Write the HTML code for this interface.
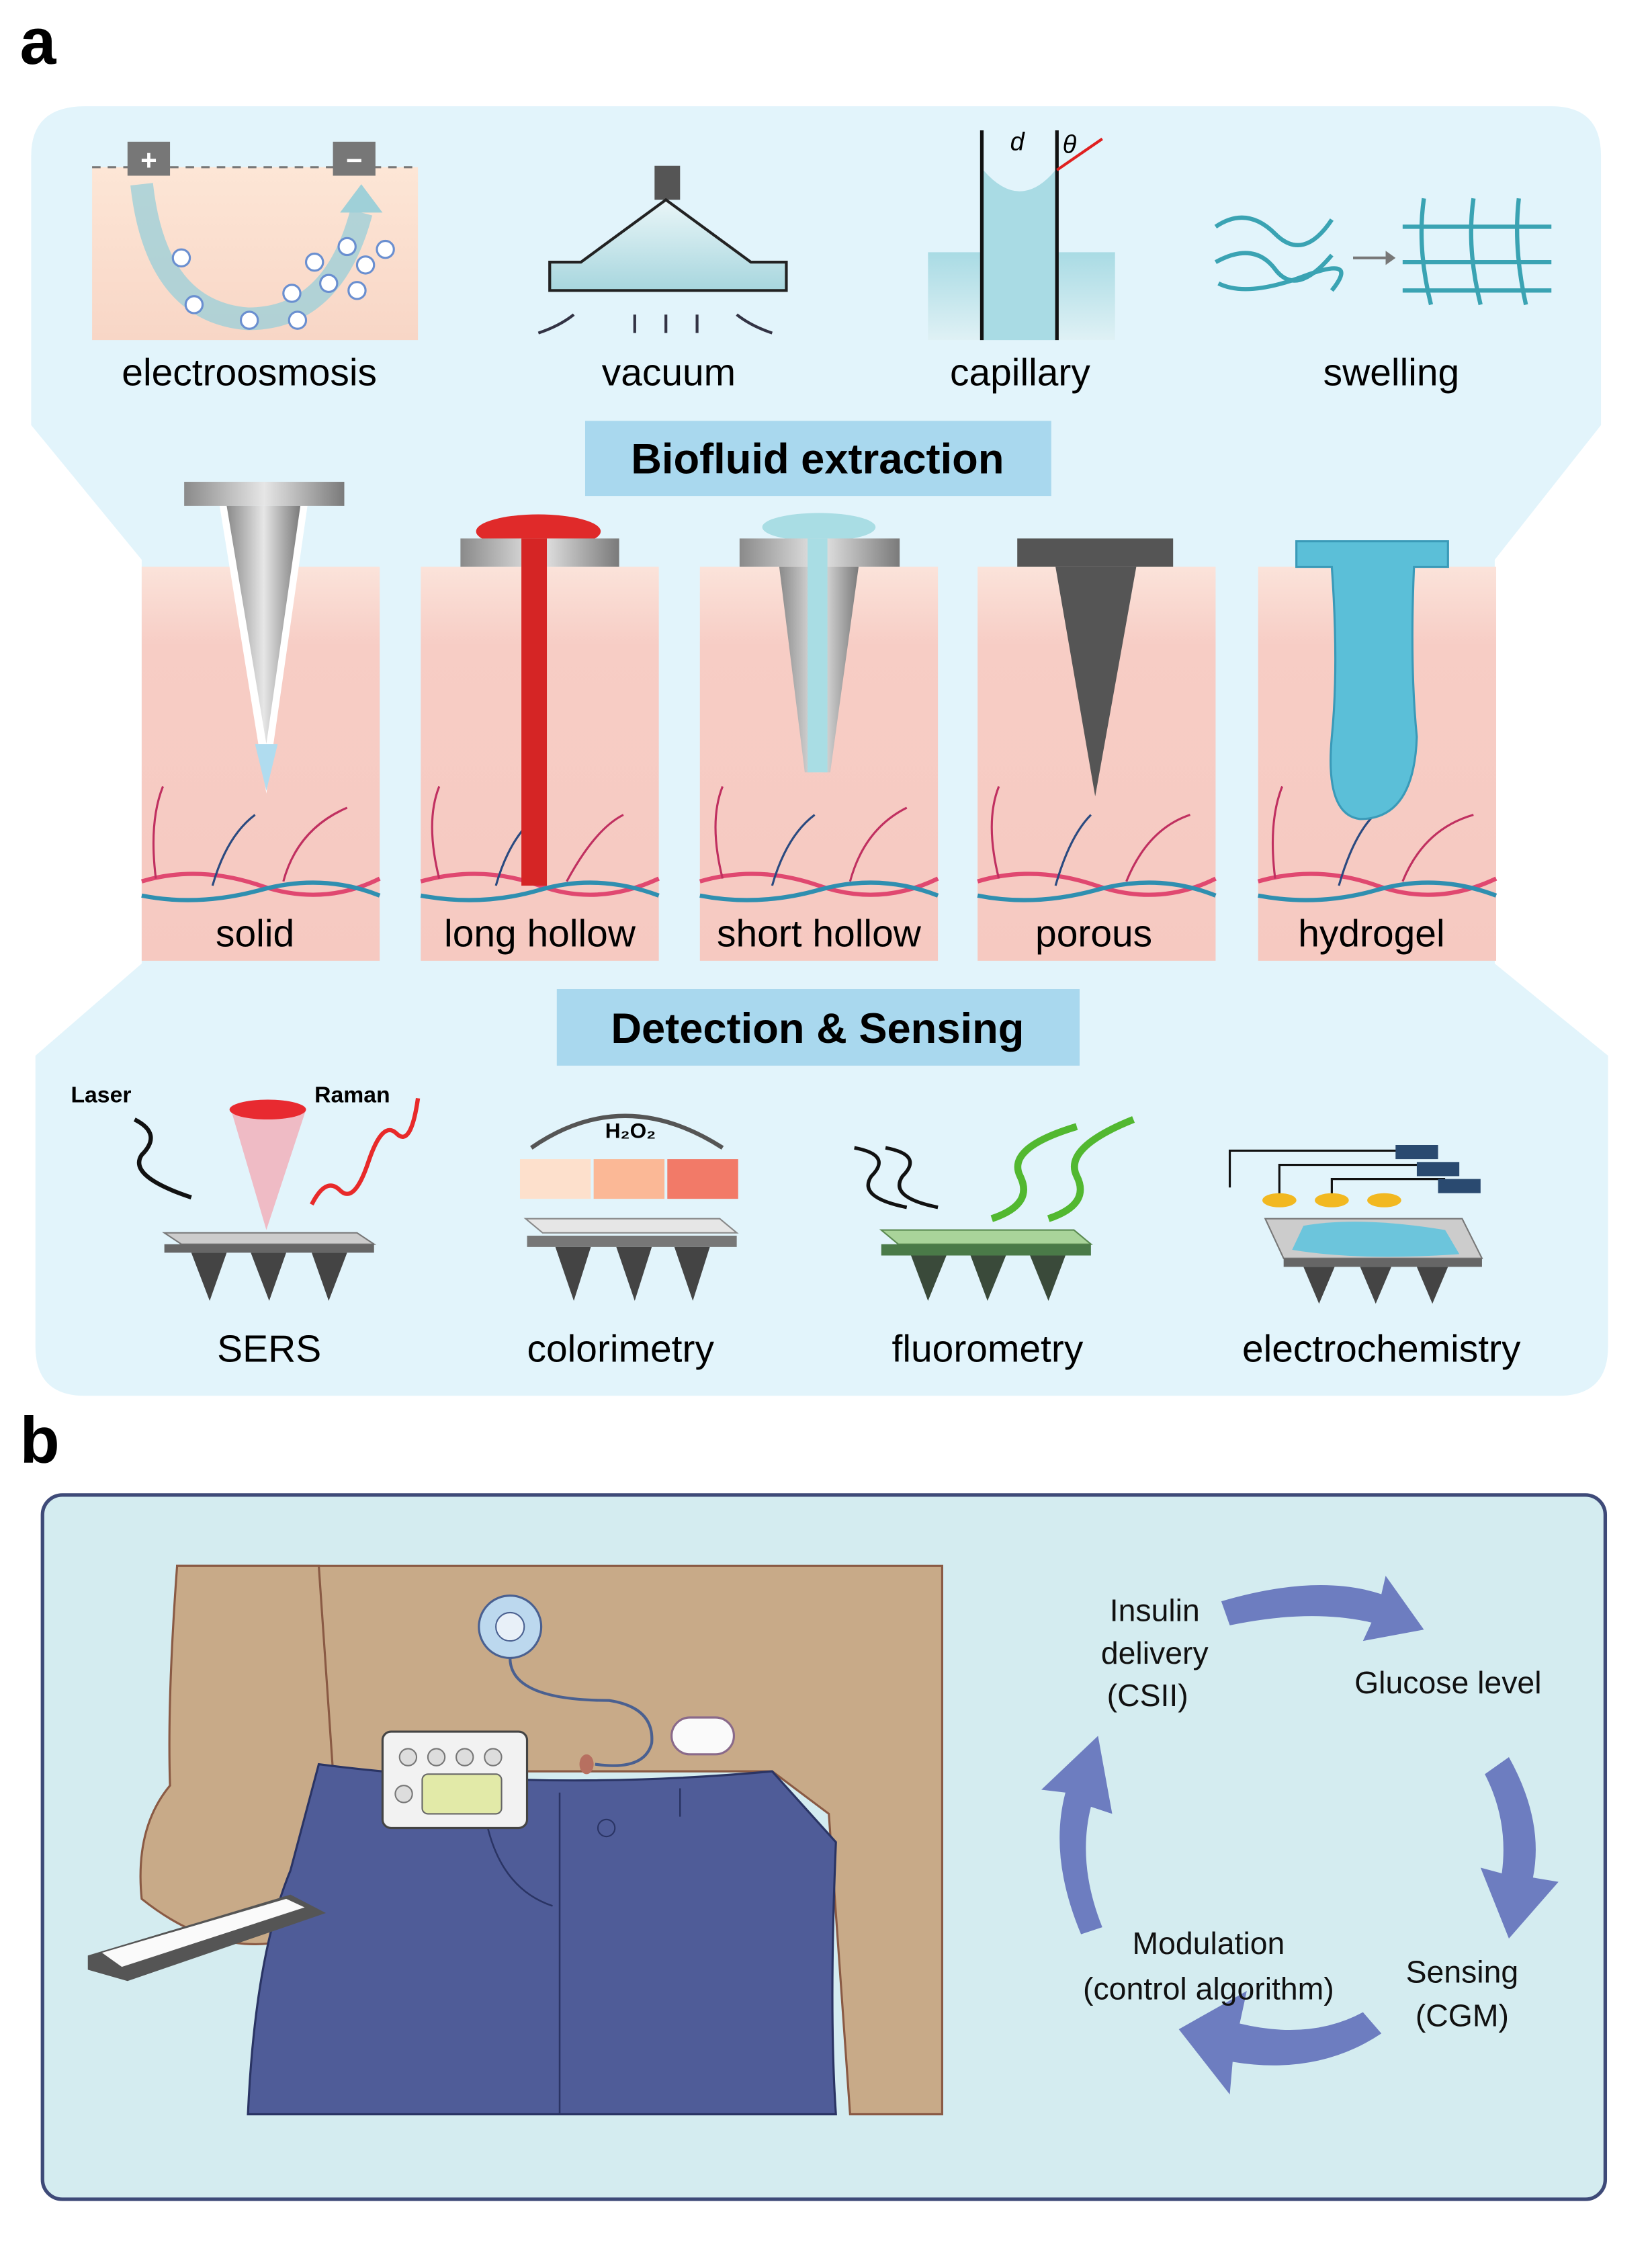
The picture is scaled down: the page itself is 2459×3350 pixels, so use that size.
<!DOCTYPE html>
<html><head><meta charset="utf-8"><style>
html,body{margin:0;padding:0;background:#fff}
svg{display:block}
text{font-family:"Liberation Sans",sans-serif}
</style></head><body>
<svg width="2459" height="3350" viewBox="0 0 1166 1588.5" preserveAspectRatio="none" xmlns="http://www.w3.org/2000/svg">
<defs>
<linearGradient id="skin" x1="0" y1="0" x2="0" y2="1"><stop offset="0" stop-color="#fbe3da"/><stop offset="0.2" stop-color="#f7cdc5"/><stop offset="1" stop-color="#f6c9c1"/></linearGradient>
<linearGradient id="peach" x1="0" y1="0" x2="0" y2="1"><stop offset="0" stop-color="#fde6d6"/><stop offset="1" stop-color="#f8d6c6"/></linearGradient>
<linearGradient id="metal" x1="0" y1="0" x2="1" y2="0"><stop offset="0" stop-color="#8a8a8a"/><stop offset="0.5" stop-color="#e6e6e6"/><stop offset="1" stop-color="#7a7a7a"/></linearGradient>
<linearGradient id="vac" x1="0" y1="0" x2="0" y2="1"><stop offset="0" stop-color="#eaf6f8"/><stop offset="1" stop-color="#a7d6de"/></linearGradient>
<linearGradient id="cap" x1="0" y1="0" x2="0" y2="1"><stop offset="0" stop-color="#a9dbe4"/><stop offset="1" stop-color="#dff1f5"/></linearGradient>
</defs>
<rect width="1166" height="1588.5" fill="#fff"/>
<text x="14" y="45" font-size="46" font-weight="bold">a</text>
<path d="M60,75 H1095 Q1130,75 1130,110 V300 L1055,395 V680 L1135,745 V950 Q1135,985 1100,985 H60 Q25,985 25,950 V745 L100,680 V395 L22,300 V110 Q22,75 60,75 Z" fill="#e2f4fb"/>
<!-- electroosmosis -->
<rect x="65" y="118" width="230" height="122" fill="url(#peach)"/>
<line x1="65" y1="118" x2="295" y2="118" stroke="#777" stroke-dasharray="6,5" stroke-width="1.5"/>
<rect x="90" y="100" width="30" height="24" fill="#777"/><text x="105" y="120" font-size="20" fill="#fff" text-anchor="middle" font-weight="bold">+</text>
<rect x="235" y="100" width="30" height="24" fill="#777"/><text x="250" y="120" font-size="20" fill="#fff" text-anchor="middle" font-weight="bold">−</text>
<path d="M100,130 Q110,220 175,225 Q235,225 255,150" fill="none" stroke="#9fd0d8" stroke-width="16" opacity="0.8"/>
<polygon points="240,150 270,150 255,130" fill="#9fd0d8"/>
<g fill="#fff" stroke="#6a8fd0" stroke-width="1.5">
<circle cx="128" cy="182" r="6"/><circle cx="137" cy="215" r="6"/><circle cx="176" cy="226" r="6"/><circle cx="210" cy="226" r="6"/><circle cx="206" cy="207" r="6"/><circle cx="222" cy="185" r="6"/><circle cx="232" cy="200" r="6"/><circle cx="245" cy="174" r="6"/><circle cx="258" cy="187" r="6"/><circle cx="272" cy="176" r="6"/><circle cx="252" cy="205" r="6"/>
</g>
<text x="176" y="272" font-size="27" text-anchor="middle">electroosmosis</text>
<!-- vacuum -->
<rect x="462" y="117" width="18" height="24" fill="#555"/>
<polygon points="388,205 555,205 555,185 530,185 470,141 410,185 388,185" fill="url(#vac)" stroke="#222" stroke-width="2"/>
<g stroke="#334" stroke-width="2" fill="none"><path d="M380,235 Q395,230 405,222"/><path d="M545,235 Q530,230 520,222"/><path d="M448,235 V222"/><path d="M470,235 V222"/><path d="M492,235 V222"/></g>
<text x="472" y="272" font-size="27" text-anchor="middle">vacuum</text>
<!-- capillary -->
<rect x="655" y="178" width="132" height="62" fill="url(#cap)"/>
<path d="M694,120 Q720,150 745,120 V240 H694 Z" fill="#a9dbe4"/>
<line x1="693" y1="92" x2="693" y2="240" stroke="#111" stroke-width="2.5"/>
<line x1="746" y1="92" x2="746" y2="240" stroke="#111" stroke-width="2.5"/>
<line x1="746" y1="120" x2="778" y2="98" stroke="#e02020" stroke-width="2"/>
<text x="713" y="106" font-size="18" font-style="italic" font-family="Liberation Serif">d</text>
<text x="750" y="108" font-size="18" font-style="italic" font-family="Liberation Serif">θ</text>
<text x="720" y="272" font-size="27" text-anchor="middle">capillary</text>
<!-- swelling -->
<g stroke="#3aa3b3" stroke-width="3" fill="none">
<path d="M858,160 Q880,145 900,165 T940,155"/><path d="M858,185 Q885,170 900,190 T940,180"/><path d="M860,200 Q880,210 920,195 T940,205"/>
<path d="M990,160 H1095"/><path d="M990,185 H1095"/><path d="M990,205 H1095"/>
<path d="M1005,140 Q1000,175 1010,215"/><path d="M1040,140 Q1035,175 1045,215"/><path d="M1072,140 Q1068,175 1077,215"/>
</g>
<path d="M955,182 H978" stroke="#777" stroke-width="2"/><polygon points="978,177 985,182 978,187" fill="#777"/>
<text x="982" y="272" font-size="27" text-anchor="middle">swelling</text>
<rect x="413" y="297" width="329" height="53" fill="#a9d8ee"/>
<text x="577" y="334" font-size="30" font-weight="bold" text-anchor="middle">Biofluid extraction</text>
<!-- skin strips -->
<g>
<rect x="100" y="400" width="168" height="278" fill="url(#skin)"/>
<rect x="297" y="400" width="168" height="278" fill="url(#skin)"/>
<rect x="494" y="400" width="168" height="278" fill="url(#skin)"/>
<rect x="690" y="400" width="168" height="278" fill="url(#skin)"/>
<rect x="888" y="400" width="168" height="278" fill="url(#skin)"/>
</g>
<g fill="none" stroke-width="3">
<g stroke="#e04870"><path d="M100,622 Q140,610 184,625 T268,620"/><path d="M297,622 Q340,610 381,625 T465,620"/><path d="M494,622 Q535,610 578,625 T662,620"/><path d="M690,622 Q730,610 774,625 T858,620"/><path d="M888,622 Q930,610 972,625 T1056,620"/></g>
<g stroke="#2f8fb0"><path d="M100,632 Q140,640 184,628 T268,632"/><path d="M297,632 Q340,640 381,628 T465,632"/><path d="M494,632 Q535,640 578,628 T662,632"/><path d="M690,632 Q730,640 774,628 T858,632"/><path d="M888,632 Q930,640 972,628 T1056,632"/></g>
<g stroke="#c03060" stroke-width="1.5"><path d="M110,620 Q105,580 115,555"/><path d="M200,622 Q210,585 245,570"/><path d="M310,620 Q300,580 310,555"/><path d="M400,622 Q420,585 440,575"/><path d="M510,620 Q500,580 510,555"/><path d="M600,622 Q610,585 640,570"/><path d="M705,620 Q695,580 705,555"/><path d="M795,622 Q810,585 840,575"/><path d="M900,620 Q895,580 905,555"/><path d="M990,622 Q1005,585 1040,575"/></g>
<g stroke="#2a4a80" stroke-width="1.5"><path d="M150,625 Q160,590 180,575"/><path d="M350,625 Q360,590 380,575"/><path d="M545,625 Q555,590 575,575"/><path d="M745,625 Q755,590 770,575"/><path d="M945,625 Q955,590 970,575"/></g>
</g>
<!-- needles -->
<polygon points="155,357 217,357 188,560" fill="#fff"/>
<rect x="130" y="340" width="113" height="17" fill="url(#metal)"/>
<polygon points="160,357 212,357 188,525" fill="url(#metal)"/>
<polygon points="180,525 196,525 188,558" fill="#b0dcef"/>
<ellipse cx="380" cy="375" rx="44" ry="12" fill="#e02a2a"/>
<rect x="325" y="380" width="112" height="20" fill="url(#metal)"/>
<rect x="368" y="380" width="18" height="245" fill="#d52525"/>
<ellipse cx="578" cy="372" rx="40" ry="10" fill="#a9dde4"/>
<rect x="522" y="380" width="113" height="20" fill="url(#metal)"/>
<polygon points="550,400 606,400 586,545 568,545" fill="url(#metal)"/>
<rect x="570" y="380" width="14" height="165" fill="#a9dde4"/>
<rect x="718" y="380" width="110" height="20" fill="#555"/>
<polygon points="745,400 802,400 773,562" fill="#555"/>
<path d="M915,382 H1022 V400 H998 Q995,470 1000,520 Q998,578 960,578 Q935,575 940,520 Q945,470 940,400 H915 Z" fill="#5bbfd8" stroke="#3a9ab8" stroke-width="1.5"/>
<g font-size="27" text-anchor="middle"><text x="180" y="668">solid</text><text x="381" y="668">long hollow</text><text x="578" y="668">short hollow</text><text x="772" y="668">porous</text><text x="968" y="668">hydrogel</text></g>
<rect x="393" y="698" width="369" height="54" fill="#a9d8ee"/>
<text x="577" y="736" font-size="30" font-weight="bold" text-anchor="middle">Detection &amp; Sensing</text>
<!-- SERS -->
<text x="50" y="778" font-size="16" font-weight="bold">Laser</text><text x="222" y="778" font-size="16" font-weight="bold">Raman</text>
<path d="M95,790 Q115,800 100,815 Q90,830 135,845" fill="none" stroke="#111" stroke-width="3"/>
<polygon points="163,783 216,783 188,868" fill="#f5a3ae" opacity="0.7"/>
<ellipse cx="189" cy="783" rx="27" ry="7" fill="#e82a30"/>
<path d="M220,850 Q230,830 240,840 T260,820 T280,800 T295,775" fill="none" stroke="#e82a2a" stroke-width="3"/>
<polygon points="116,870 252,870 264,878 128,878" fill="#ccc" stroke="#777"/><rect x="116" y="878" width="148" height="6" fill="#666"/>
<g fill="#444"><polygon points="135,884 160,884 148,918"/><polygon points="177,884 202,884 190,918"/><polygon points="220,884 245,884 232,918"/></g>
<text x="190" y="961" font-size="27" text-anchor="middle">SERS</text>
<!-- colorimetry -->
<path d="M375,810 Q440,765 510,810" fill="none" stroke="#555" stroke-width="3"/>
<text x="445" y="803" font-size="15" font-weight="bold" text-anchor="middle">H₂O₂</text>
<rect x="367" y="818" width="50" height="28" fill="#fde0cc"/><rect x="419" y="818" width="50" height="28" fill="#fbb896"/><rect x="471" y="818" width="50" height="28" fill="#f27a68"/>
<polygon points="371,860 508,860 520,870 383,870" fill="#e6e6e6" stroke="#888"/><rect x="372" y="872" width="148" height="8" fill="#777"/>
<g fill="#444"><polygon points="392,880 417,880 405,918"/><polygon points="435,880 460,880 448,918"/><polygon points="476,880 501,880 489,918"/></g>
<text x="438" y="961" font-size="27" text-anchor="middle">colorimetry</text>
<!-- fluorometry -->
<g fill="none" stroke="#111" stroke-width="2.5"><path d="M603,810 Q630,815 615,830 Q605,845 640,852"/><path d="M625,810 Q652,815 637,830 Q627,845 662,852"/></g>
<g fill="none" stroke="#52b830" stroke-width="5"><path d="M700,860 Q730,850 720,830 Q710,810 760,795"/><path d="M740,860 Q770,850 760,830 Q750,810 800,790"/></g>
<polygon points="622,868 758,868 770,878 634,878" fill="#a9d49a" stroke="#5a8a50"/><rect x="622" y="878" width="148" height="8" fill="#4a7a48"/>
<g fill="#3a4a3a"><polygon points="643,886 668,886 655,918"/><polygon points="685,886 710,886 697,918"/><polygon points="727,886 752,886 740,918"/></g>
<text x="697" y="961" font-size="27" text-anchor="middle">fluorometry</text>
<!-- electrochemistry -->
<g stroke="#111" stroke-width="1.5" fill="none"><path d="M868,838 V812 H990"/><path d="M903,845 V822 H1005"/><path d="M940,845 V832 H1020"/></g>
<g fill="#2a4a70"><rect x="985" y="808" width="30" height="10"/><rect x="1000" y="820" width="30" height="10"/><rect x="1015" y="832" width="30" height="10"/></g>
<g fill="#f2b820"><ellipse cx="903" cy="847" rx="12" ry="5"/><ellipse cx="940" cy="847" rx="12" ry="5"/><ellipse cx="977" cy="847" rx="12" ry="5"/></g>
<polygon points="893,860 1032,860 1046,888 906,888" fill="#ccc" stroke="#777"/>
<path d="M920,865 Q960,858 1020,868 L1030,885 Q960,890 912,882 Z" fill="#6cc5dc"/>
<rect x="906" y="888" width="140" height="6" fill="#666"/>
<g fill="#444"><polygon points="920,894 942,894 931,920"/><polygon points="960,894 982,894 971,920"/><polygon points="1000,894 1022,894 1011,920"/></g>
<text x="975" y="961" font-size="27" text-anchor="middle">electrochemistry</text>

<!-- panel b -->
<text x="14" y="1032" font-size="46" font-weight="bold">b</text>
<rect x="30" y="1055" width="1103" height="497" rx="14" fill="#d4ecf0" stroke="#3e4a78" stroke-width="2.5"/>
<rect x="125" y="1105" width="540" height="388" fill="#d4ecf0"/>
<path d="M125,1105 H665 V1492 H600 Q590,1350 585,1280 L545,1250 H225 L190,1320 L130,1250 Z" fill="#c8aa88" stroke="#8a5a44" stroke-width="1.5"/>
<path d="M125,1105 Q118,1200 120,1260 Q95,1290 100,1340 Q150,1380 200,1370 Q225,1330 235,1250 L225,1105 Z" fill="#c8aa88" stroke="#8a5a44" stroke-width="1.5"/>
<path d="M225,1245 Q380,1265 545,1250 L590,1300 Q585,1420 590,1492 H175 Q180,1380 205,1320 Z" fill="#4f5c98" stroke="#2a3464" stroke-width="1.5"/>
<g fill="none" stroke="#2a3464" stroke-width="1.2"><path d="M395,1265 V1492"/><path d="M340,1262 Q345,1330 390,1345"/><path d="M300,1262 V1280"/><path d="M480,1262 V1282"/></g>
<circle cx="428" cy="1290" r="6" fill="none" stroke="#2a3464"/>
<polygon points="62,1380 205,1337 230,1350 90,1398 62,1390" fill="#555"/>
<polygon points="72,1378 202,1340 215,1346 86,1388" fill="#fafafa"/>
<circle cx="360" cy="1148" r="22" fill="#bcd8ee" stroke="#4a6090" stroke-width="1.5"/><circle cx="360" cy="1148" r="10" fill="#e8f0f8" stroke="#4a6090"/>
<path d="M360,1170 Q360,1200 430,1200 Q462,1205 460,1230 Q455,1250 420,1245" fill="none" stroke="#4a6090" stroke-width="2"/>
<rect x="270" y="1222" width="102" height="68" rx="6" fill="#f2f2f2" stroke="#444" stroke-width="1.5"/>
<rect x="298" y="1252" width="56" height="28" rx="4" fill="#e2eaa8" stroke="#666"/>
<g fill="#ddd" stroke="#777"><circle cx="288" cy="1240" r="6"/><circle cx="308" cy="1240" r="6"/><circle cx="328" cy="1240" r="6"/><circle cx="348" cy="1240" r="6"/><circle cx="285" cy="1266" r="6"/></g>
<rect x="474" y="1212" width="44" height="26" rx="13" fill="#fafafa" stroke="#8a6a8a" stroke-width="1.5"/>
<ellipse cx="414" cy="1245" rx="5" ry="7" fill="#b77060"/>
<!-- cycle -->
<g fill="#6d7dc0">
<path d="M862,1130 Q930,1110 975,1125 L978,1112 L1005,1150 L962,1158 L968,1145 Q925,1135 868,1147 Z"/>
<path d="M1065,1240 Q1090,1285 1082,1325 L1100,1328 L1065,1368 L1045,1318 L1060,1322 Q1065,1285 1048,1252 Z"/>
<path d="M975,1435 Q930,1465 870,1455 L868,1478 L832,1432 L880,1405 L875,1428 Q925,1440 962,1420 Z"/>
<path d="M763,1365 Q740,1310 752,1265 L735,1263 L775,1225 L785,1280 L770,1275 Q760,1315 778,1360 Z"/>
</g>
<g font-size="22" text-anchor="middle" fill="#111">
<text x="815" y="1144">Insulin</text><text x="815" y="1174">delivery</text><text x="810" y="1204">(CSII)</text>
<text x="1022" y="1195">Glucose level</text>
<text x="1032" y="1399">Sensing</text><text x="1032" y="1430">(CGM)</text>
<text x="853" y="1379">Modulation</text><text x="853" y="1411">(control algorithm)</text>
</g>
</svg>
</body></html>
